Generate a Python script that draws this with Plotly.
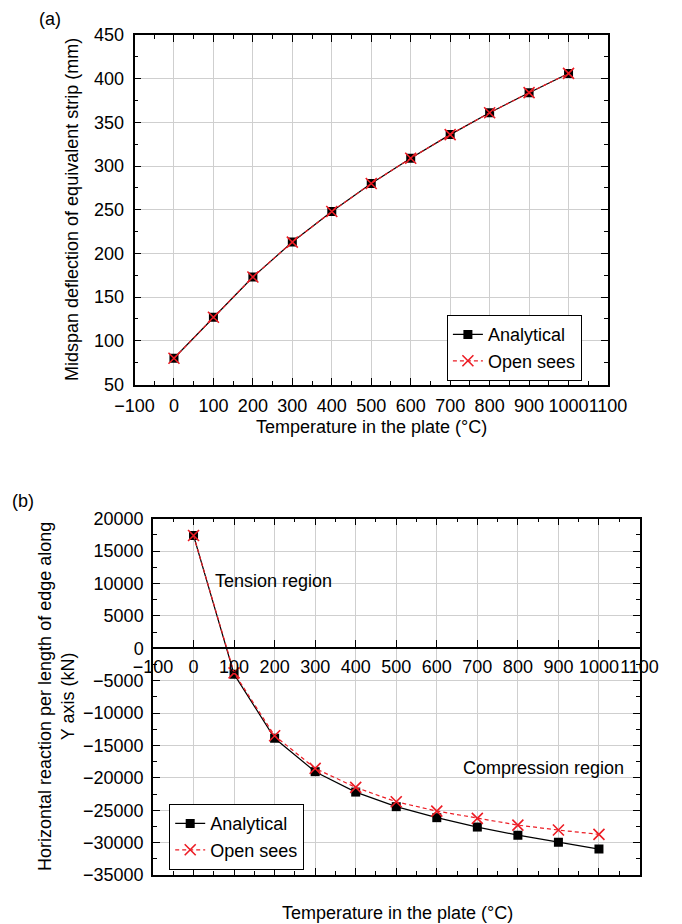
import plotly.graph_objects as go

# ---------------- data ----------------
temps = [0, 100, 200, 300, 400, 500, 600, 700, 800, 900, 1000]

defl_analytical = [80, 127, 173, 213, 248, 280, 309, 336, 361, 384, 406]
defl_opensees = [80, 127, 173, 213, 248, 280, 309, 336, 361, 384, 406]

react_analytical = [17400, -4000, -13900, -19050, -22200, -24450, -26150, -27600, -28850, -29950, -31000]
react_opensees = [17400, -3800, -13500, -18550, -21480, -23700, -25130, -26260, -27300, -28060, -28730]

x_ticks = [-100, 0, 100, 200, 300, 400, 500, 600, 700, 800, 900, 1000, 1100]
ya_ticks = [50, 100, 150, 200, 250, 300, 350, 400, 450]
yb_ticks = [20000, 15000, 10000, 5000, 0, -5000, -10000, -15000, -20000, -25000, -30000, -35000]

# ---------------- layout geometry ----------------
W, H = 682, 924
FONT = "Liberation Sans, Arial, sans-serif"
FS = 18
RED = "#ec1c24"
GRID = "#cfcfcf"

def px_x(p):
    return p / W

def px_y(p):
    return (H - p) / H

a_dom_x = [px_x(134.5), px_x(608)]
a_dom_y = [px_y(384.5), px_y(35)]
b_dom_x = [px_x(153), px_x(639.5)]
b_dom_y = [px_y(875), px_y(518.7)]

yb_range = [-35000, 20000]
zero_pos = b_dom_y[0] + (0 - yb_range[0]) / (yb_range[1] - yb_range[0]) * (b_dom_y[1] - b_dom_y[0])

fig = go.Figure()

mk_sq = dict(symbol="square", size=9, color="black")
mk_x = dict(symbol="x-thin-open", size=11, color=RED, line=dict(color=RED, width=1.6))

# panel (a)
fig.add_trace(go.Scatter(x=temps, y=defl_analytical, mode="lines+markers", name="Analytical",
                         line=dict(color="black", width=1.2), marker=mk_sq,
                         xaxis="x", yaxis="y", legend="legend"))
fig.add_trace(go.Scatter(x=temps, y=defl_opensees, mode="lines+markers", name="Open sees",
                         line=dict(color=RED, width=1.2, dash="4px,3px"), marker=mk_x,
                         xaxis="x", yaxis="y", legend="legend"))
# panel (b)
fig.add_trace(go.Scatter(x=temps, y=react_analytical, mode="lines+markers", name="Analytical",
                         line=dict(color="black", width=1.2), marker=mk_sq,
                         xaxis="x2", yaxis="y2", legend="legend2"))
fig.add_trace(go.Scatter(x=temps, y=react_opensees, mode="lines+markers", name="Open sees",
                         line=dict(color=RED, width=1.2, dash="4px,3px"), marker=mk_x,
                         xaxis="x2", yaxis="y2", legend="legend2"))
# empty trace to create the zero-line x axis subplot
fig.add_trace(go.Scatter(x=[], y=[], xaxis="x3", yaxis="y2", showlegend=False, hoverinfo="skip"))

tickfont = dict(family=FONT, size=FS, color="black")

common_x = dict(range=[-100, 1100], tickvals=x_ticks, showgrid=True, gridcolor=GRID, gridwidth=1,
                showline=True, linecolor="black", linewidth=1.5, mirror="ticks",
                ticks="inside", ticklen=7, tickwidth=1.3, tickcolor="black",
                zeroline=False, tickfont=tickfont, tickangle=0, automargin=False,
                minor=dict(ticks="inside", ticklen=4, dtick=50, tick0=0, tickcolor="black", showgrid=False))

fig.update_layout(
    width=W, height=H, autosize=False,
    margin=dict(l=0, r=0, t=0, b=0, pad=0, autoexpand=False),
    paper_bgcolor="white", plot_bgcolor="white",
    font=dict(family=FONT, size=FS, color="black"),
    xaxis=dict(domain=a_dom_x, anchor="y", ticklabelstandoff=4, **common_x),
    yaxis=dict(domain=a_dom_y, anchor="x", range=[50, 450], tickvals=ya_ticks,
               showgrid=True, gridcolor=GRID, showline=True, linecolor="black", linewidth=1.5,
               mirror="ticks", ticks="inside", ticklen=7, tickwidth=1.3, tickcolor="black",
               zeroline=False, tickfont=tickfont, ticklabelstandoff=5, automargin=False,
               minor=dict(ticks="inside", ticklen=4, dtick=25, tick0=0, tickcolor="black", showgrid=False)),
    xaxis2=dict(domain=b_dom_x, anchor="y2", showticklabels=False, **common_x),
    yaxis2=dict(domain=b_dom_y, anchor="x2", range=yb_range, tickvals=yb_ticks, tickformat="d",
                showgrid=True, gridcolor=GRID, showline=True, linecolor="black", linewidth=1.5,
                mirror="ticks", ticks="inside", ticklen=7, tickwidth=1.3, tickcolor="black",
                zeroline=False, tickfont=tickfont, ticklabelstandoff=4, automargin=False,
                minor=dict(ticks="inside", ticklen=4, dtick=2500, tick0=0, tickcolor="black", showgrid=False)),
    xaxis3=dict(overlaying="x2", anchor="free", position=zero_pos, range=[-100, 1100], tickvals=x_ticks,
                showgrid=False, zeroline=False, showline=True, linecolor="black", linewidth=2.4,
                ticks="inside", ticklen=7, tickwidth=1.3, tickcolor="black", tickfont=tickfont,
                tickangle=0, ticklabelstandoff=2, automargin=False),
    legend=dict(x=px_x(446.7), y=px_y(348), xanchor="left", yanchor="middle",
                bordercolor="black", borderwidth=1.2, bgcolor="white",
                font=dict(family=FONT, size=18, color="black"), itemwidth=30,
                tracegroupgap=0),
    legend2=dict(x=px_x(169), y=px_y(837), xanchor="left", yanchor="middle",
                 bordercolor="black", borderwidth=1.2, bgcolor="white",
                 font=dict(family=FONT, size=18, color="black"), itemwidth=30,
                 tracegroupgap=0),
    showlegend=True,
)

ann = []
def add_text(text, x, y, xanchor="center", yanchor="middle", angle=0):
    ann.append(dict(text=text, x=px_x(x), y=px_y(y), xref="paper", yref="paper",
                    xanchor=xanchor, yanchor=yanchor, showarrow=False, textangle=angle,
                    font=dict(family=FONT, size=FS, color="black")))

add_text("(a)", 50, 19)
add_text("(b)", 23, 501)
add_text("Temperature in the plate (°C)", 371, 427)
add_text("Temperature in the plate (°C)", 397, 913)
add_text("Midspan deflection of equivalent strip (mm)", 72, 210, angle=-90)
add_text("Horizontal reaction per length of edge along<br>Y axis (kN)", 56, 697, angle=-90)
add_text("Tension region", 213, 581, xanchor="left")
add_text("Compression region", 461, 768, xanchor="left")
fig.update_layout(annotations=ann)

fig.write_html("out.html")
